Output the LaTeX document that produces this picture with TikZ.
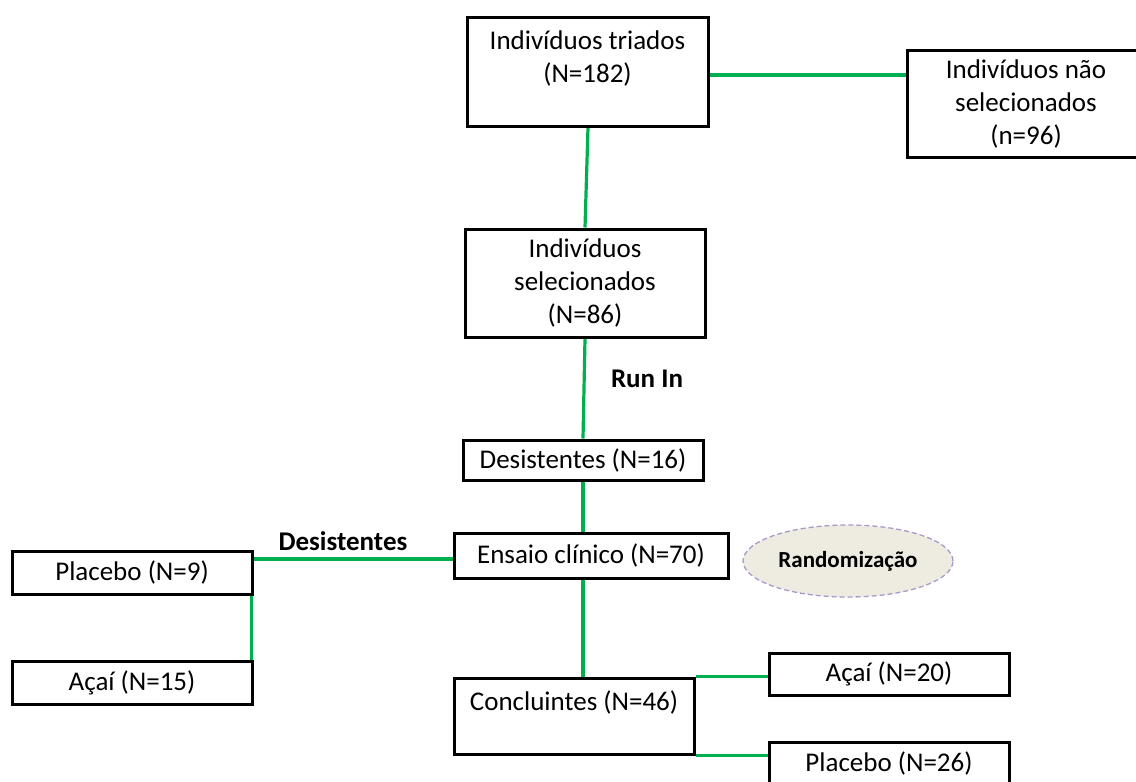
\documentclass[tikz,border=0pt]{standalone}
\usepackage{fontspec}
\setmainfont{Carlito}
\usetikzlibrary{shapes.geometric,backgrounds}
\definecolor{lgreen}{HTML}{00B050}
\definecolor{ovalfill}{HTML}{EEECE1}
\definecolor{ovaldash}{HTML}{A998CC}
\begin{document}
\begin{tikzpicture}[x=1pt,y=-1pt,
  box/.style={draw=black,line width=3pt,fill=white,inner sep=0pt,align=center,
              font=\fontsize{27}{33}\selectfont},
  txt/.style={align=center,inner sep=0pt,font=\fontsize{27}{33}\selectfont},
  lbl/.style={inner sep=0pt,font=\fontsize{27}{33}\selectfont\bfseries},
  link/.style={draw=lgreen,line width=3.2pt},
  oval/.style={ellipse,draw=ovaldash,line width=1.3pt,dash pattern=on 5pt off 3pt,
               fill=ovalfill,inner sep=0pt,font=\fontsize{23}{28}\selectfont\bfseries}]
\useasboundingbox (0,0) rectangle (1136,782);
\clip (0,0) rectangle (1136,782);

% boxes
\node[box,minimum width=241,minimum height=109] (b1) at (587.5,71.5) {};
\node[txt] (b1t) at ([yshift=13]b1.center) {Indivíduos triados\\(N=182)};
\node[box,minimum width=238,minimum height=107] (b2) at (1026,103.5) {Indivíduos não\\selecionados\\(n=96)};
\node[box,minimum width=240,minimum height=108] (b3) at (585,283) {Indivíduos\\selecionados\\(N=86)};
\node[box,minimum width=240,minimum height=40] (des) at (583,460) {Desistentes (N=16)};
\node[box,minimum width=274,minimum height=45] (ens) at (591,555.5) {Ensaio clínico (N=70)};
\node[box,minimum width=240,minimum height=43] (p9) at (132,572.5) {Placebo (N=9)};
\node[box,minimum width=240,minimum height=43] (a15) at (132,682.5) {Açaí (N=15)};
\node[box,minimum width=240,minimum height=76] (conc) at (574,716) {};
\node[txt] (conct) at ([yshift=14]conc.center) {Concluintes (N=46)};
\node[box,minimum width=240,minimum height=42] (a20) at (889,674) {Açaí (N=20)};
\node[box,minimum width=240,minimum height=43] (p26) at (889,763.5) {Placebo (N=26)};
\node[oval,minimum width=210,minimum height=72] (rand) at (848,561) {Randomização};

% labels
\node[lbl] (runin) at (647,379) {Run In};
\node[lbl] (desl) at (343,541) {Desistentes};

% connectors
\begin{scope}[on background layer]
\draw[link] ([yshift=-3.5]b1.east) -- ([yshift=-3.5]b1.east -| b2.west);
\draw[link] ([xshift=0.5]b1.south) -- (b3.north);
\draw[link] (b3.south) -- (des.north);
\draw[link] (des.south) -- (des.south |- ens.north);
\draw[link] ([yshift=-3.5]ens.west) -- ([yshift=-3.5]ens.west -| p9.east);
\draw[link] ([xshift=-2]p9.south east) -- ([xshift=-2]a15.north east);
\draw[link] ([xshift=-8]ens.south) -- ([xshift=-8]ens.south |- conc.north);
\draw[link] (conc.north east) -- (conc.north east -| a20.west);
\draw[link] (conc.south east) -- (conc.south east -| p26.west);
\end{scope}
\end{tikzpicture}
\end{document}
